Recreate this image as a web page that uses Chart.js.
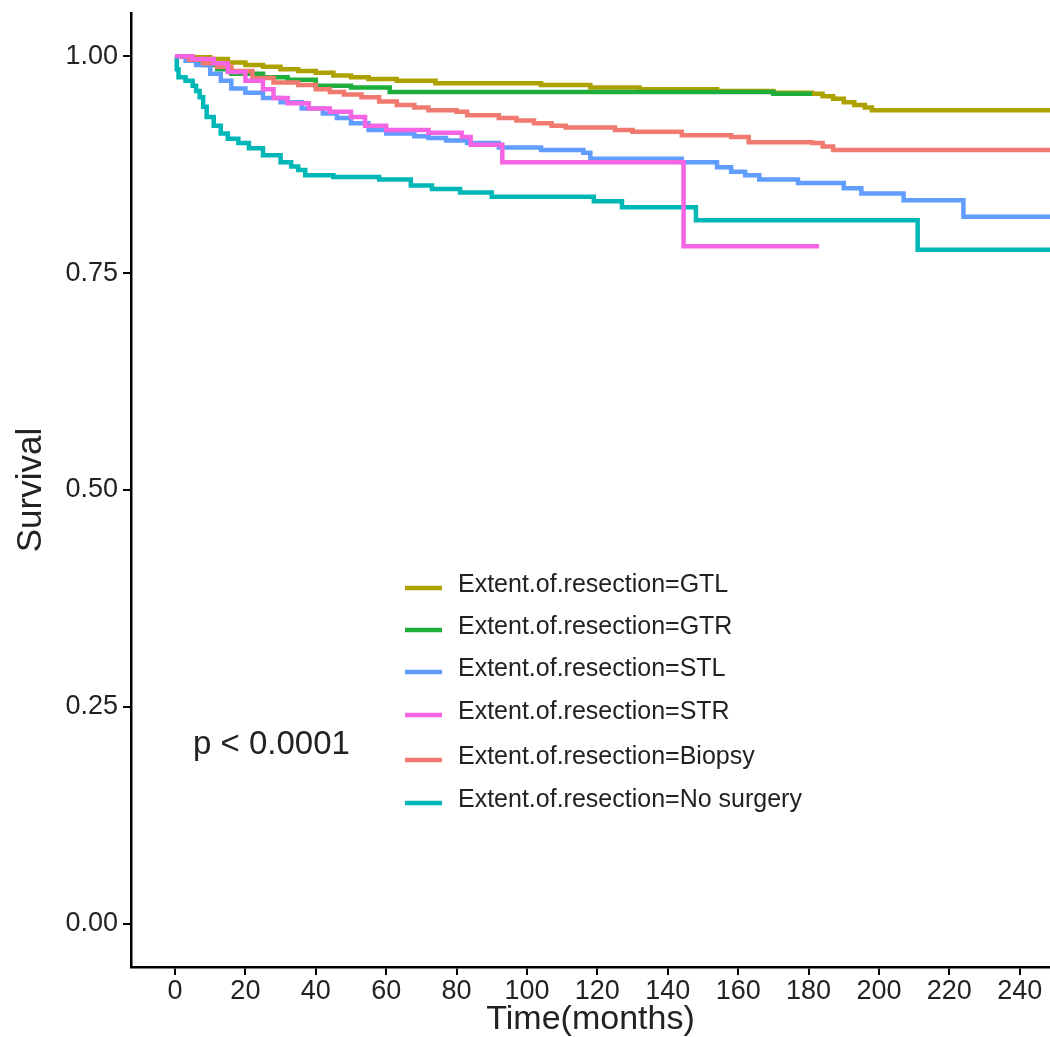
<!DOCTYPE html>
<html>
<head>
<meta charset="utf-8">
<script src="https://cdn.jsdelivr.net/npm/chart.js@4.4.1/dist/chart.umd.min.js"></script>
<style>
  body { margin: 0; background: #fff; }
  #wrap { width: 1050px; height: 1037px; position: relative; }
</style>
</head>
<body>
<div id="wrap"><canvas id="km"></canvas></div>
<script>
// Kaplan-Meier curves (time in months, survival)
const groups = ['Extent.of.resection=GTL', 'Extent.of.resection=GTR', 'Extent.of.resection=STL',
  'Extent.of.resection=STR', 'Extent.of.resection=Biopsy', 'Extent.of.resection=No surgery'];

const gtlTime = [0, 5, 10, 15, 20, 25, 30, 35, 40, 45, 50, 55, 63, 74, 104, 118, 132, 154, 170, 181, 184, 187, 190, 193, 196, 198, 260];
const gtlSurv = [1.0, 0.999, 0.997, 0.993, 0.990, 0.988, 0.985, 0.983, 0.981, 0.978, 0.976, 0.974, 0.972, 0.969, 0.967, 0.964, 0.962, 0.960, 0.958, 0.957, 0.954, 0.951, 0.947, 0.944, 0.941, 0.938, 0.938];

const gtrTime = [0, 4, 8, 12, 16, 25, 32, 40, 50, 61, 170, 181];
const gtrSurv = [1.0, 0.995, 0.990, 0.985, 0.980, 0.976, 0.973, 0.966, 0.964, 0.959, 0.957, 0.957];

const stlTime = [0, 3, 6, 10, 13, 16, 20, 25, 30, 36, 42, 46, 50, 55, 60, 68, 72, 77, 83, 92, 104, 116, 118, 144, 154, 158, 162, 166, 177, 190, 195, 207, 224, 260];
const stlSurv = [1.0, 0.995, 0.990, 0.980, 0.972, 0.963, 0.958, 0.952, 0.947, 0.940, 0.934, 0.929, 0.923, 0.915, 0.911, 0.908, 0.906, 0.903, 0.900, 0.895, 0.892, 0.889, 0.882, 0.878, 0.872, 0.867, 0.863, 0.858, 0.854, 0.848, 0.842, 0.834, 0.815, 0.815];

const strTime = [0, 5, 11, 15, 20, 25, 28, 32, 38, 44, 50, 54, 60, 72, 81.5, 84, 93, 144.5, 183];
const strSurv = [1.0, 0.997, 0.992, 0.982, 0.972, 0.962, 0.952, 0.946, 0.940, 0.936, 0.930, 0.920, 0.915, 0.912, 0.907, 0.898, 0.878, 0.781, 0.781];

const bioTime = [0, 4, 8, 12, 16, 22, 28, 35, 40, 44, 48, 53, 58, 63, 68, 72, 80, 83, 92, 97, 102, 107, 111, 125, 130, 144, 158, 163, 181, 184, 187, 260];
const bioSurv = [1.0, 0.996, 0.992, 0.988, 0.983, 0.975, 0.970, 0.967, 0.962, 0.959, 0.956, 0.953, 0.948, 0.944, 0.941, 0.938, 0.936, 0.932, 0.929, 0.926, 0.923, 0.920, 0.918, 0.915, 0.913, 0.909, 0.907, 0.901, 0.900, 0.896, 0.892, 0.892];

const nosTime = [0, 0.5, 1, 3, 5, 6, 7, 8, 9, 11, 13, 15, 18, 21, 25, 30, 33, 35, 37, 45, 58, 67, 73, 81, 90, 119, 127, 148, 211, 260];
const nosSurv = [1.0, 0.985, 0.976, 0.972, 0.966, 0.960, 0.953, 0.942, 0.930, 0.920, 0.911, 0.905, 0.900, 0.894, 0.886, 0.878, 0.873, 0.869, 0.863, 0.861, 0.858, 0.851, 0.847, 0.843, 0.838, 0.833, 0.826, 0.811, 0.777, 0.777];

const colors = ['#ADA100', '#1DAE3C', '#619CFF', '#F564E3', '#F07A70', '#00B7B8'];
const xTicks = [0, 20, 40, 60, 80, 100, 120, 140, 160, 180, 200, 220, 240];
const yTicks = [0, 0.25, 0.5, 0.75, 1.0];

const FONT = '"Liberation Sans", Arial, sans-serif';

function pts(t, s) {
  return t.map((v, i) => ({ x: v, y: s[i] }));
}

const series = [
  pts(gtlTime, gtlSurv), pts(gtrTime, gtrSurv), pts(stlTime, stlSurv),
  pts(strTime, strSurv), pts(bioTime, bioSurv), pts(nosTime, nosSurv)
];
const drawOrder = [6, 5, 4, 1, 3, 2];

const datasets = series.map((d, i) => ({
  label: groups[i],
  data: d,
  borderColor: colors[i],
  backgroundColor: colors[i],
  borderWidth: 4.5,
  pointRadius: 0,
  stepped: 'before',
  order: drawOrder[i]
}));

// legend + p value drawn inside the panel, like survminer does
const overlay = {
  id: 'overlay',
  afterDraw(chart) {
    const ctx = chart.ctx;
    const rows = [585, 627, 669, 712, 757, 800];
    ctx.save();
    ctx.font = '25px ' + FONT;
    ctx.textBaseline = 'middle';
    chart.data.datasets.forEach((ds, i) => {
      const y = rows[i];
      ctx.strokeStyle = ds.borderColor;
      ctx.lineWidth = 4.5;
      ctx.beginPath();
      ctx.moveTo(405, y + 3);
      ctx.lineTo(442, y + 3);
      ctx.stroke();
      ctx.fillStyle = '#222';
      ctx.fillText(ds.label, 458, y);
    });
    ctx.font = '33px ' + FONT;
    ctx.textBaseline = 'alphabetic';
    ctx.fillStyle = '#222';
    ctx.fillText('p < 0.0001', 193, 754);
    ctx.restore();
  }
};

new Chart(document.getElementById('km'), {
  type: 'line',
  data: { datasets: datasets },
  options: {
    responsive: true,
    maintainAspectRatio: false,
    animation: false,
    layout: { padding: { top: 13, right: 0, bottom: 0, left: 0 } },
    plugins: {
      legend: { display: false },
      tooltip: { enabled: false }
    },
    scales: {
      x: {
        type: 'linear',
        min: -12.5,
        max: 248.6,
        afterBuildTicks: (s) => { s.ticks = xTicks.map(v => ({ value: v })); },
        afterFit: (s) => { s.height = 70; s.paddingLeft = 0; s.paddingRight = 0; },
        ticks: {
          autoSkip: false, maxRotation: 0, padding: 0, color: '#222',
          font: { family: FONT, size: 27 },
          callback: (v) => v
        },
        grid: { drawOnChartArea: false, drawTicks: true, tickLength: 8, color: '#000', lineWidth: 2 },
        border: { display: true, color: '#000', width: 2.5 },
        title: {
          display: true, text: 'Time(months)', color: '#222',
          font: { family: FONT, size: 34, lineHeight: 1 }, padding: { top: 0, bottom: 0 }
        }
      },
      y: {
        min: -0.05,
        max: 1.05,
        afterBuildTicks: (s) => { s.ticks = yTicks.map(v => ({ value: v })); },
        afterFit: (s) => { s.width = 131; s.paddingTop = 0; s.paddingBottom = 0; },
        ticks: {
          padding: 5, color: '#222',
          font: { family: FONT, size: 27 },
          callback: (v) => Number(v).toFixed(2)
        },
        grid: { drawOnChartArea: false, drawTicks: true, tickLength: 8, color: '#000', lineWidth: 2 },
        border: { display: true, color: '#000', width: 2.5 },
        title: {
          display: true, text: 'Survival', color: '#222',
          font: { family: FONT, size: 35 }, padding: { top: 10, bottom: 0 }
        }
      }
    }
  },
  plugins: [overlay]
});
</script>
</body>
</html>
